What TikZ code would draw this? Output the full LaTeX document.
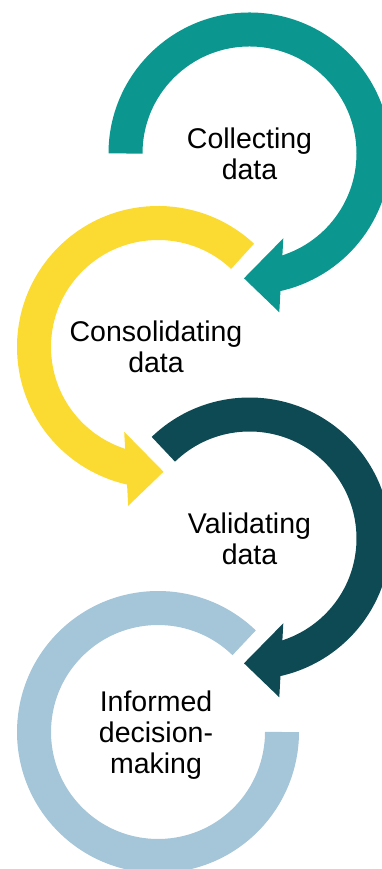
\documentclass[tikz,border=0pt]{standalone}
\usepackage{fontspec}
\setmainfont{Liberation Sans}

\definecolor{collectcol}{RGB}{11,150,143}
\definecolor{consolcol}{RGB}{251,218,50}
\definecolor{validcol}{RGB}{14,74,84}
\definecolor{decidecol}{RGB}{165,197,216}

\tikzset{
  lbl/.style={align=center, font=\fontsize{28.5}{31}\selectfont, inner sep=0pt},
  ring/.style={line width=34pt}
}

\begin{document}
\begin{tikzpicture}[x=1pt,y=1pt]
    \clip (0,0) rectangle (382,869);
    % ring centres
    \coordinate (c1) at (249.5,715.5);
    \coordinate (c2) at (158,522);
    \coordinate (c3) at (249.5,330.5);
    \coordinate (c4) at (158,137);

    \node[lbl] (collect) at (c1) {Collecting\\data};
    \node[lbl] (consol) at ([xshift=-2pt]c2) {Consolidating\\data};
    \node[lbl] (valid) at (c3) {Validating\\data};
    \node[lbl] (decide) at ([xshift=-2pt,yshift=-3pt]c4) {Informed\\decision-\\making};

    % rings
    \draw[ring, collectcol] ([shift={(180:124pt)}]c1) arc[start angle=180, end angle=-78, radius=124pt];
    \draw[ring, consolcol] ([shift={(47:124pt)}]c2) arc[start angle=47, end angle=258, radius=124pt];
    \draw[ring, validcol] ([shift={(134:124pt)}]c3) arc[start angle=134, end angle=-78, radius=124pt];
    \draw[ring, decidecol] ([shift={(46:124pt)}]c4) arc[start angle=46, end angle=360, radius=124pt];

    % arrow heads
    \fill[collectcol, shift={(c1)}] (-5.5,-124.8) -- (33.8,-84.8) -- (29.8,-158.8) -- cycle;
    \fill[consolcol, shift={(c2)}] (5.5,-124.8) -- (-33.8,-84.8) -- (-29.8,-158.8) -- cycle;
    \fill[validcol, shift={(c3)}] (-5.5,-124.8) -- (33.8,-84.8) -- (29.8,-158.8) -- cycle;
\end{tikzpicture}
\end{document}
